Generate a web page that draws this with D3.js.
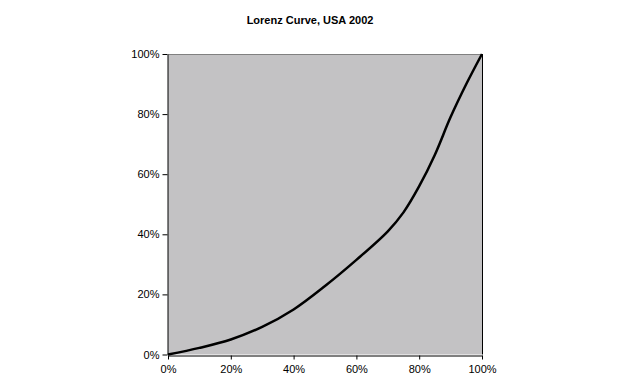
<!DOCTYPE html>
<html>
<head>
<meta charset="utf-8">
<script src="https://cdn.jsdelivr.net/npm/d3@7"></script>
<style>
  html, body { margin: 0; padding: 0; background: #ffffff; }
  svg { display: block; }
  text { font-family: "Liberation Sans", Arial, sans-serif; }
</style>
</head>
<body>
<svg id="chart" width="620" height="386"></svg>
<script>
// Data (cumulative share of population vs income, %)
const populationShare = [0, 10, 20, 30, 40, 50, 60, 70, 75, 80, 85, 90, 95, 100];
const incomeShare     = [0, 2.2, 5, 9.2, 15, 22.8, 31.5, 41, 47.3, 56, 66.5, 79, 90, 100];
const xTickValues = [0, 20, 40, 60, 80, 100];
const yTickValues = [0, 20, 40, 60, 80, 100];
const chartTitle = "Lorenz Curve, USA 2002";

const svg = d3.select("#chart");
const pLeft = 168, pRight = 482, pTop = 54, pBottom = 354.5;

const x = d3.scaleLinear().domain([0, 100]).range([pLeft, pRight]);
const y = d3.scaleLinear().domain([0, 100]).range([pBottom, pTop]);

// Plot area
svg.append("rect")
  .attr("x", pLeft).attr("y", pTop)
  .attr("width", pRight - pLeft).attr("height", pBottom - pTop)
  .attr("fill", "#c3c2c4");

// Top border (gray) and right border (black)
svg.append("line").attr("x1", pLeft).attr("x2", pRight).attr("y1", pTop + 0.5).attr("y2", pTop + 0.5)
  .attr("stroke", "#808080").attr("stroke-width", 1);
svg.append("line").attr("x1", pRight + 0.5).attr("x2", pRight + 0.5).attr("y1", pTop).attr("y2", pBottom)
  .attr("stroke", "#000").attr("stroke-width", 1);

const fmt = d => d + "%";

// X axis
const xAxis = svg.append("g")
  .attr("transform", `translate(0,${Math.round(pBottom) + 0.5})`)
  .call(d3.axisBottom(x).tickValues(xTickValues).tickFormat(fmt).tickSize(4).tickSizeOuter(0).tickPadding(6));
// Y axis
const yAxis = svg.append("g")
  .attr("transform", `translate(${pLeft - 0.5},0)`)
  .call(d3.axisLeft(y).tickValues(yTickValues).tickFormat(fmt).tickSize(5).tickSizeOuter(0).tickPadding(3));

[xAxis, yAxis].forEach(g => {
  g.selectAll("path").attr("stroke", "#000");
  g.selectAll("line").attr("stroke", "#000");
  g.selectAll("text").attr("fill", "#000").style("font-size", "11px")
    .style("font-family", "'Liberation Sans', Arial, sans-serif");
});

// Lorenz curve
const pts = populationShare.map((p, i) => [p, incomeShare[i]]);
svg.append("path")
  .datum(pts)
  .attr("fill", "none")
  .attr("stroke", "#000")
  .attr("stroke-width", 2.5)
  .attr("stroke-linejoin", "round")
  .attr("d", d3.line().x(d => x(d[0])).y(d => y(d[1])).curve(d3.curveCatmullRom.alpha(0.5)));

// Title
svg.append("text")
  .attr("x", 310).attr("y", 24)
  .attr("text-anchor", "middle")
  .style("font-size", "11px")
  .style("font-weight", "bold")
  .text(chartTitle);
</script>
</body>
</html>
